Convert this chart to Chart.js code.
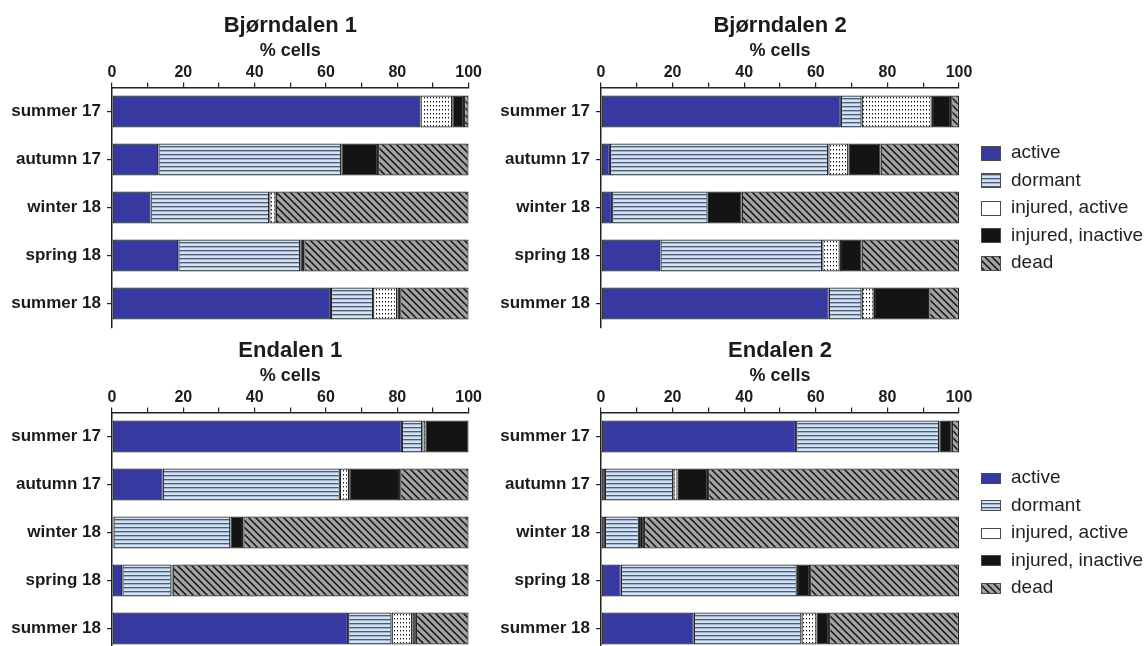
<!DOCTYPE html>
<html>
<head>
<meta charset="utf-8">
<script src="https://cdn.jsdelivr.net/npm/chart.js@4.4.1/dist/chart.umd.min.js"></script>
<style>
  html, body { margin: 0; padding: 0; background: #fff; overflow: hidden; width: 1148px; height: 646px; }
  canvas { position: absolute; }
</style>
</head>
<body>
<canvas id="bj1" width="482" height="334" style="left:0;top:0"></canvas>
<canvas id="bj2" width="658" height="334" style="left:490px;top:0"></canvas>
<canvas id="en1" width="482" height="334" style="left:0;top:325px"></canvas>
<canvas id="en2" width="658" height="334" style="left:490px;top:325px"></canvas>
<script>
// Seasons sampled at each site
const categories = ['summer 17', 'autumn 17', 'winter 18', 'spring 18', 'summer 18'];
const seriesNames = ['active', 'dormant', 'injured, active', 'injured, inactive', 'dead'];
const xTickValues = [0, 20, 40, 60, 80, 100];

// Bjørndalen 1 (% cells)
const bj1Active   = [86.5, 13.0, 10.8, 18.6, 61.4];
const bj1Dormant  = [0.0, 51.3, 33.3, 34.2, 11.8];
const bj1InjAct   = [8.9, 0.0, 1.8, 0.0, 6.8];
const bj1InjInact = [3.3, 10.3, 0.0, 1.1, 0.8];
const bj1Dead     = [1.3, 25.4, 54.1, 46.1, 19.2];

// Bjørndalen 2 (% cells)
const bj2Active   = [67.0, 2.5, 3.1, 16.6, 63.6];
const bj2Dormant  = [5.8, 61.0, 26.7, 45.2, 9.2];
const bj2InjAct   = [19.6, 5.6, 0.0, 4.9, 3.4];
const bj2InjInact = [5.4, 9.0, 9.5, 6.1, 15.5];
const bj2Dead     = [2.2, 21.9, 60.7, 27.2, 8.3];

// Endalen 1 (% cells)
const en1Active   = [81.3, 14.2, 0.4, 2.9, 66.2];
const en1Dormant  = [5.7, 49.7, 32.8, 13.8, 12.2];
const en1InjAct   = [0.9, 2.6, 0.0, 0.0, 5.8];
const en1InjInact = [12.1, 14.3, 3.6, 0.3, 1.0];
const en1Dead     = [0.0, 19.2, 63.2, 83.0, 14.8];

// Endalen 2 (% cells)
const en2Active   = [54.5, 1.1, 1.1, 5.5, 25.9];
const en2Dormant  = [40.0, 19.1, 9.5, 49.2, 30.1];
const en2InjAct   = [0.0, 1.2, 0.0, 0.0, 4.2];
const en2InjInact = [3.5, 8.5, 1.4, 3.7, 3.5];
const en2Dead     = [2.0, 70.1, 88.0, 41.6, 36.3];

const FONT = '"Liberation Sans", Arial, Helvetica, sans-serif';
const INK = '#1b1b1b';
Chart.defaults.font.family = FONT;

// ---- fill patterns ----
function makeTile(w, h, draw) {
  const c = document.createElement('canvas');
  c.width = w; c.height = h;
  const g = c.getContext('2d');
  draw(g, w, h);
  return g.createPattern(c, 'repeat');
}
const activeFill = '#363aa0';
const dormantFill = makeTile(4, 4, (g) => {
  g.fillStyle = '#d2e3f5'; g.fillRect(0, 0, 4, 4);
  g.fillStyle = '#4f5e74'; g.fillRect(0, 2, 4, 1);
  g.fillStyle = '#9fb2c9'; g.fillRect(0, 3, 4, 1);
});
const dottedFill = makeTile(3, 4, (g) => {
  g.fillStyle = '#ffffff'; g.fillRect(0, 0, 3, 4);
  g.fillStyle = '#111111'; g.fillRect(1, 1, 1, 1);
  g.fillStyle = '#9a9a9a'; g.fillRect(1, 2, 1, 1);
});
const inactiveFill = '#141414';
const deadFill = makeTile(7, 7, (g, s) => {
  g.fillStyle = '#a3a3a3'; g.fillRect(0, 0, s, s);
  g.strokeStyle = '#111111'; g.lineWidth = 1.5;
  for (const c of [-s, 0, s]) {
    g.beginPath(); g.moveTo(c - 1, -1); g.lineTo(c + s + 1, s + 1); g.stroke();
  }
});
const segmentFills = [activeFill, dormantFill, dottedFill, inactiveFill, deadFill];
const swatchFills = [activeFill, dormantFill, '#ffffff', inactiveFill, deadFill];

// ---- legend drawn beside the plot area ----
const sideLegend = {
  id: 'sideLegend',
  afterDraw(chart, args, opts) {
    if (!opts.show) return;
    const { ctx, chartArea } = chart;
    ctx.save();
    chart.data.datasets.forEach((ds, i) => {
      const cy = chartArea.top + opts.firstRow + i * opts.rowGap;
      const x = chartArea.right + opts.gap;
      const top = Math.round(cy - opts.boxH / 2);
      ctx.fillStyle = ds.swatch;
      ctx.fillRect(x, top, opts.boxW, opts.boxH);
      ctx.strokeStyle = '#4a4a4a';
      ctx.lineWidth = 1;
      ctx.strokeRect(x + 0.5, top + 0.5, opts.boxW - 1, opts.boxH - 1);
      ctx.fillStyle = '#222';
      ctx.font = '19px ' + FONT;
      ctx.textBaseline = 'middle';
      ctx.textAlign = 'left';
      ctx.fillText(ds.label, x + opts.textGap, cy);
    });
    ctx.restore();
  }
};

const TITLE_SIZE = 22, TITLE_PAD = 12.5, AXIS_TOP = 87.5;

function buildPanel(id, title, series, withLegend, yAxisWidth, boxH) {
  const datasets = seriesNames.map((name, i) => ({
    label: name,
    data: series[i],
    backgroundColor: segmentFills[i],
    swatch: swatchFills[i],
    borderColor: '#262626',
    borderWidth: 1.3,
    borderSkipped: false,
    barPercentage: 0.667,
    categoryPercentage: 1
  }));
  return new Chart(document.getElementById(id), {
    type: 'bar',
    data: { labels: categories, datasets },
    plugins: [sideLegend],
    options: {
      indexAxis: 'y',
      responsive: false,
      animation: false,
      devicePixelRatio: 1,
      layout: { padding: { left: 0, right: withLegend ? 189 : 13, top: 0, bottom: 6.5 } },
      plugins: {
        legend: { display: false },
        tooltip: { enabled: false },
        title: {
          display: true, text: title, fullSize: false, color: INK,
          font: { size: TITLE_SIZE, weight: 'bold', lineHeight: 1.2 },
          padding: { top: TITLE_PAD, bottom: 0 }
        },
        sideLegend: { show: withLegend, gap: 22, textGap: 30, boxW: 20, boxH: boxH, firstRow: 65.5, rowGap: 27.5 }
      },
      scales: {
        x: {
          position: 'top', stacked: true, min: 0, max: 100,
          afterFit: (s) => { s.height = AXIS_TOP - (TITLE_PAD + TITLE_SIZE * 1.2); },
          title: { display: true, text: '% cells', color: INK, font: { size: 18, weight: 'bold' }, padding: { top: 1, bottom: 0 } },
          ticks: {
            stepSize: 10, autoSkip: false, maxRotation: 0, padding: 0, color: INK,
            font: { size: 16, weight: 'bold' },
            callback: (v) => xTickValues.includes(v) ? String(v) : ''
          },
          grid: { drawOnChartArea: false, tickLength: 5, color: '#222', lineWidth: 1.2 },
          border: { display: true, color: '#222', width: 1.5 }
        },
        y: {
          stacked: true,
          afterFit: (s) => { s.width = yAxisWidth; s.paddingTop = 0; s.paddingBottom = 0; },
          ticks: { padding: 6, color: INK, font: { size: 17, weight: 'bold' } },
          grid: { drawOnChartArea: false, offset: false, tickLength: 5, color: '#222', lineWidth: 1.2 },
          border: { display: true, color: '#222', width: 1.5 }
        }
      }
    }
  });
}

buildPanel('bj1', 'Bjørndalen 1', [bj1Active, bj1Dormant, bj1InjAct, bj1InjInact, bj1Dead], false, 112, 15);
buildPanel('bj2', 'Bjørndalen 2', [bj2Active, bj2Dormant, bj2InjAct, bj2InjInact, bj2Dead], true, 111, 15);
buildPanel('en1', 'Endalen 1', [en1Active, en1Dormant, en1InjAct, en1InjInact, en1Dead], false, 112, 11);
buildPanel('en2', 'Endalen 2', [en2Active, en2Dormant, en2InjAct, en2InjInact, en2Dead], true, 111, 11);
</script>
</body>
</html>
